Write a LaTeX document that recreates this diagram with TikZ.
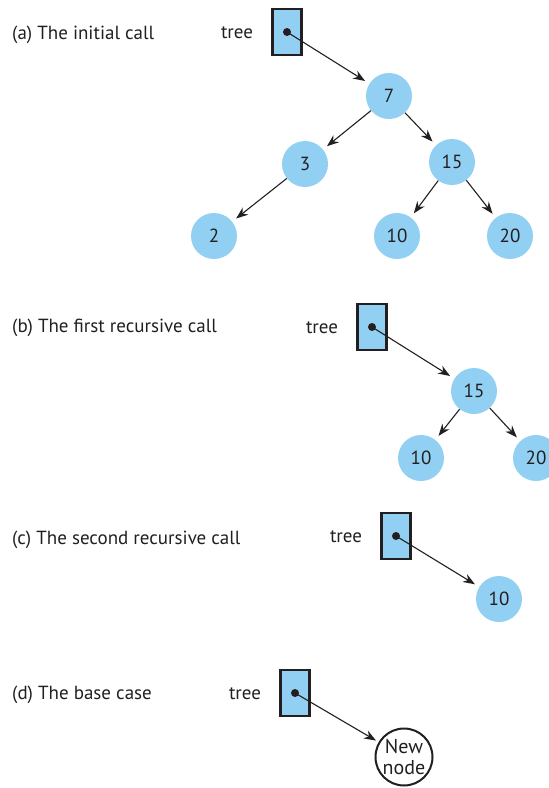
\documentclass[tikz,border=0pt]{standalone}
\usepackage{fontspec}
\setmainfont{PT Sans}
\usetikzlibrary{arrows.meta, positioning}

\definecolor{nodeblue}{HTML}{92D0F3}
\definecolor{inkgray}{HTML}{231F20}

\begin{document}
\begin{tikzpicture}[x=1pt, y=-1pt,
  every node/.style={font=\fontsize{19}{21}\selectfont, text=inkgray, inner sep=2pt},
  treenode/.style={circle, fill=nodeblue, minimum size=46pt, inner sep=0pt},
  newnode/.style={circle, draw=inkgray, line width=2pt, fill=white, minimum size=57pt, inner sep=0pt, align=center, font=\fontsize{20}{21}\selectfont},
  ptrbox/.style={draw=inkgray, line width=2.6pt, fill=nodeblue, minimum width=29pt, minimum height=46pt, inner sep=0pt},
  ptrdot/.style={circle, fill=inkgray, minimum size=8pt, inner sep=0pt},
  link/.style={draw=inkgray, line width=1.1pt, -{Stealth[length=12pt, width=9pt, inset=4pt]}, shorten >=5pt},
  caption/.style={anchor=west, inner sep=0pt},
]
\clip (0,0) rectangle (549,788);

% (a) the initial call
\node[caption] (capA) at (12,35) {(a) The initial call};
\node[ptrbox] (boxA) at (287,32) {};
\node[left=16pt of boxA, yshift=-1pt] (treeA) {tree};
\node[ptrdot] (dotA) at (boxA.center) {};
\node[treenode] (a7) at (389,96) {7};
\node[treenode] (a3) at (305,164) {3};
\node[treenode] (a15) at (452,162) {15};
\node[treenode] (a2) at (214,236) {2};
\node[treenode] (a10) at (397,236) {10};
\node[treenode] (a20) at (510,236) {20};
\draw[link] (dotA.center) -- (a7);
\draw[link] (a7) -- (a3);
\draw[link] (a7) -- (a15);
\draw[link] (a3) -- (a2);
\draw[link] (a15) -- (a10);
\draw[link] (a15) -- (a20);

% (b) the first recursive call
\node[caption] (capB) at (12,328) {(b) The first recursive call};
\node[ptrbox] (boxB) at (372,327) {};
\node[left=16pt of boxB, yshift=-1pt] (treeB) {tree};
\node[ptrdot] (dotB) at (boxB.center) {};
\node[treenode] (b15) at (474,391) {15};
\node[treenode] (b10) at (421,458) {10};
\node[treenode] (b20) at (536,458) {20};
\draw[link] (dotB.center) -- (b15);
\draw[link] (b15) -- (b10);
\draw[link] (b15) -- (b20);

% (c) the second recursive call
\node[caption] (capC) at (12,540) {(c) The second recursive call};
\node[ptrbox] (boxC) at (396,536) {};
\node[left=16pt of boxC, yshift=-1pt] (treeC) {tree};
\node[ptrdot] (dotC) at (boxC.center) {};
\node[treenode] (c10) at (499,599) {10};
\draw[link] (dotC.center) -- (c10);

% (d) the base case
\node[caption] (capD) at (12,695) {(d) The base case};
\node[ptrbox] (boxD) at (295,693) {};
\node[left=16pt of boxD, yshift=-1pt] (treeD) {tree};
\node[ptrdot] (dotD) at (boxD.center) {};
\node[newnode] (dnew) at (404,757) {New\\node};
\draw[link, shorten >=3pt] (dotD.center) -- (dnew);
\end{tikzpicture}
\end{document}
